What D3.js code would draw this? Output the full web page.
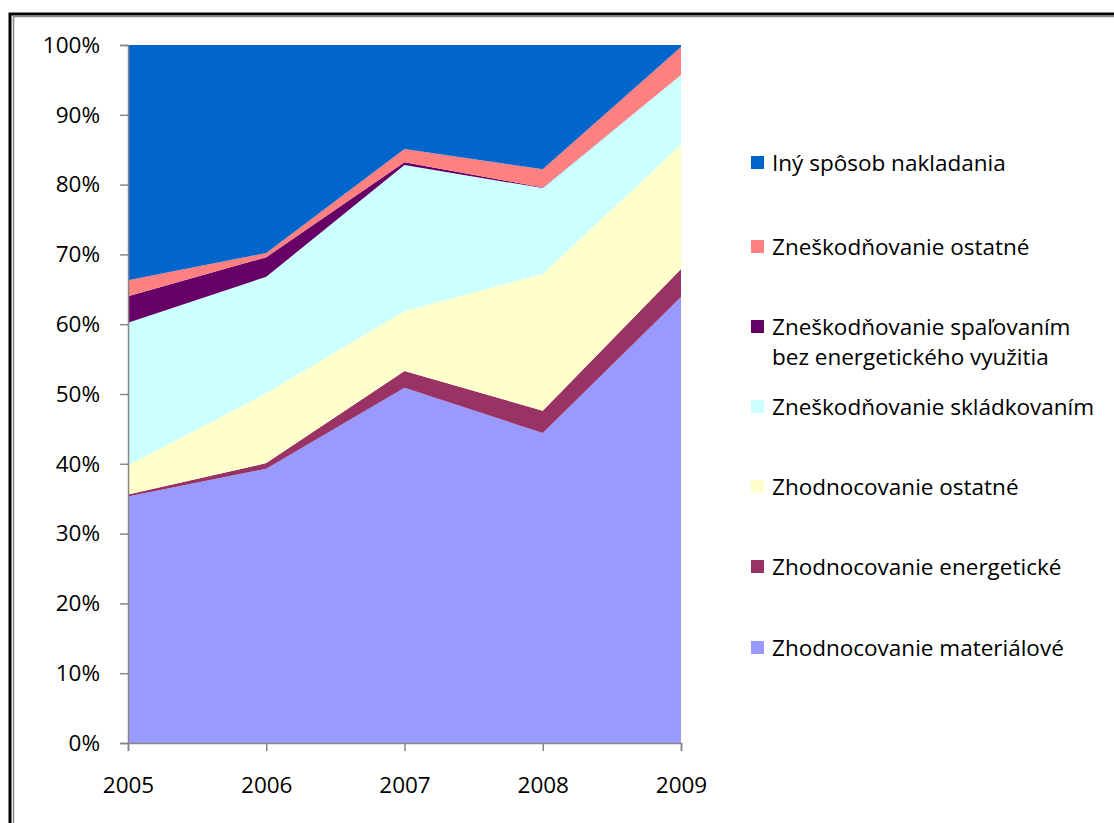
<!DOCTYPE html>
<html>
<head>
<meta charset="utf-8">
<script src="https://d3js.org/d3.v7.min.js"></script>
<style>
  body, html { margin: 0; padding: 0; background: #fff; }
  svg { display: block; }
  text { font-family: "Open Sans", Lato, sans-serif; fill: #000; }
</style>
</head>
<body>
<svg width="1114" height="823"></svg>
<script>
// data (percent shares)
const years = ["2005", "2006", "2007", "2008", "2009"];
const seriesNames = [
  "Zhodnocovanie materiálové",
  "Zhodnocovanie energetické",
  "Zhodnocovanie ostatné",
  "Zneškodňovanie skládkovaním",
  "Zneškodňovanie spaľovaním bez energetického využitia",
  "Zneškodňovanie ostatné",
  "Iný spôsob nakladania"
];
const materialove = [35.3, 39.3, 50.9, 44.4, 63.9];
const energeticke = [0.3, 0.8, 2.4, 3.2, 4.0];
const zhodOstatne = [4.2, 10.0, 8.6, 19.6, 17.8];
const skladkovanim = [20.4, 16.7, 20.9, 12.3, 10.0];
const spalovanim = [3.8, 2.8, 0.4, 0.1, 0.0];
const znesOstatne = [2.3, 0.6, 1.9, 2.6, 4.0];
const inySposob = [33.7, 29.8, 14.9, 17.8, 0.3];
const colors = ["#9999FF", "#993366", "#FFFFCC", "#CCFFFF", "#660066", "#FF8080", "#0066CC"];
const yTicks = [0, 0.1, 0.2, 0.3, 0.4, 0.5, 0.6, 0.7, 0.8, 0.9, 1];

const allSeries = [materialove, energeticke, zhodOstatne, skladkovanim, spalovanim, znesOstatne, inySposob];
const rows = years.map((y, i) => {
  const r = { year: y };
  seriesNames.forEach((n, k) => r[n] = allSeries[k][i]);
  return r;
});

const svg = d3.select("svg");
const font = "'Open Sans', Lato, sans-serif";
const fs = 22.5;

// outer frame
svg.append("rect").attr("x", 10).attr("y", 14).attr("width", 1120).attr("height", 830)
  .attr("fill", "none").attr("stroke", "#000").attr("stroke-width", 3);
svg.append("rect").attr("x", 13.5).attr("y", 16.5).attr("width", 1120).attr("height", 830)
  .attr("fill", "none").attr("stroke", "#888").attr("stroke-width", 1.5);

const x = d3.scalePoint().domain(years).range([128, 681]);
const y = d3.scaleLinear().domain([0, 1]).range([743, 45]);

const stack = d3.stack().keys(seriesNames).offset(d3.stackOffsetExpand);
const layers = stack(rows);

const area = d3.area()
  .x(d => x(d.data.year))
  .y0(d => y(d[0]))
  .y1(d => y(d[1]));

svg.append("g").selectAll("path")
  .data(layers)
  .join("path")
  .attr("d", area)
  .attr("fill", (d, i) => colors[i]);

// y axis
const yAxis = svg.append("g").attr("transform", "translate(128,0)")
  .call(d3.axisLeft(y).tickValues(yTicks).tickFormat(d3.format(".0%")).tickSize(8).tickPadding(20));
yAxis.select(".domain").attr("stroke", "#868686").attr("stroke-width", 1.5);
yAxis.selectAll(".tick line").attr("stroke", "#868686").attr("stroke-width", 1.5);
yAxis.selectAll("text").attr("font-size", fs).attr("fill", "#000")
  .style("font-family", font);

// x axis
const xAxis = svg.append("g").attr("transform", "translate(0,743)")
  .call(d3.axisBottom(x).tickSize(8).tickPadding(26));
xAxis.select(".domain").attr("stroke", "#868686").attr("stroke-width", 1.5);
xAxis.selectAll(".tick line").attr("stroke", "#868686").attr("stroke-width", 1.5);
xAxis.selectAll("text").attr("font-size", fs).attr("fill", "#000")
  .style("font-family", font);

// legend (top to bottom: reverse stack order)
const legendItems = [
  { k: 6, lines: ["Iný spôsob nakladania"], y: 163 },
  { k: 5, lines: ["Zneškodňovanie ostatné"], y: 247 },
  { k: 4, lines: ["Zneškodňovanie spaľovaním", "bez energetického využitia"], y: 327 },
  { k: 3, lines: ["Zneškodňovanie skládkovaním"], y: 407 },
  { k: 2, lines: ["Zhodnocovanie ostatné"], y: 487 },
  { k: 1, lines: ["Zhodnocovanie energetické"], y: 567 },
  { k: 0, lines: ["Zhodnocovanie materiálové"], y: 648 }
];
const lg = svg.append("g").selectAll("g").data(legendItems).join("g");
lg.append("rect")
  .attr("x", 751).attr("y", d => d.y - 7).attr("width", 13).attr("height", 13)
  .attr("fill", d => colors[d.k]);
lg.each(function(d) {
  const g = d3.select(this);
  d.lines.forEach((t, j) => {
    g.append("text").attr("x", 772).attr("y", d.y + j * 30)
      .attr("dy", "0.35em").attr("font-size", fs).text(t);
  });
});
</script>
</body>
</html>
